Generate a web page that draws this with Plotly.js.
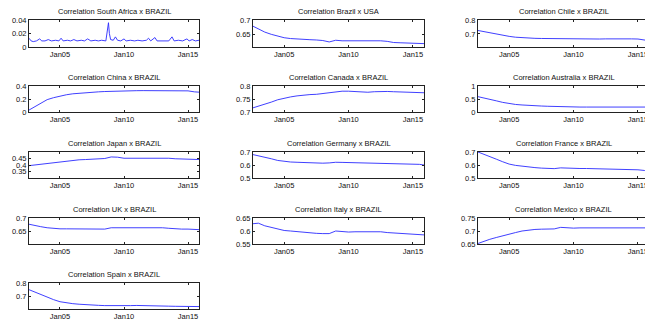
<!DOCTYPE html>
<html><head><meta charset="utf-8">
<script src="https://cdn.plot.ly/plotly-3.0.1.min.js"></script>
<style>html,body{margin:0;padding:0;overflow:hidden;background:#fff}#chart{width:660px;height:325px}</style>
</head><body><div id="chart"></div>
<script>
// ---- data ----
const titles = [
  "Correlation South Africa x BRAZIL","Correlation Brazil x USA","Correlation Chile x BRAZIL",
  "Correlation China x BRAZIL","Correlation Canada x BRAZIL","Correlation Australia x BRAZIL",
  "Correlation Japan x BRAZIL","Correlation Germany x BRAZIL","Correlation France x BRAZIL",
  "Correlation UK x BRAZIL","Correlation Italy x BRAZIL","Correlation Mexico x BRAZIL",
  "Correlation Spain x BRAZIL"];

const dates = ["2002-08-01","2003-01-01","2003-07-01","2004-01-01","2004-07-01","2005-01-01","2005-07-01",
  "2006-01-01","2006-07-01","2007-01-01","2007-07-01","2008-01-01","2008-07-01","2009-01-01","2009-07-01",
  "2010-01-01","2010-07-01","2011-01-01","2011-07-01","2012-01-01","2012-07-01","2013-01-01","2013-07-01",
  "2014-01-01","2014-07-01","2015-01-01","2015-07-01","2015-11-10"];

const saDates = ["2002-08-01","2002-10-01","2002-12-01","2003-03-01","2003-06-01","2003-08-01","2003-11-01",
  "2004-02-01","2004-05-01","2004-09-01","2004-12-01","2005-02-01","2005-04-01","2005-08-01","2005-11-01",
  "2006-02-01","2006-05-01","2006-09-01","2006-12-01","2007-03-01","2007-06-01","2007-10-01","2008-01-01",
  "2008-04-01","2008-08-01","2008-10-15","2008-11-10","2008-12-15","2009-03-01","2009-05-01","2009-07-01",
  "2009-10-01","2010-01-01","2010-03-01","2010-07-01","2010-11-01","2011-02-01","2011-06-01","2011-10-01",
  "2011-12-01","2012-02-01","2012-06-01","2012-08-01","2012-11-01","2013-03-01","2013-07-01","2013-10-01",
  "2013-12-01","2014-04-01","2014-08-01","2014-12-01","2015-02-01","2015-05-01","2015-08-01","2015-11-10"];
const southAfrica = [0.013,0.009,0.008,0.009,0.012,0.009,0.009,0.011,0.009,0.010,0.009,0.013,0.009,0.010,0.009,
  0.011,0.009,0.010,0.009,0.012,0.009,0.010,0.009,0.010,0.009,0.036,0.020,0.011,0.010,0.015,0.010,
  0.009,0.012,0.009,0.010,0.009,0.010,0.009,0.010,0.013,0.009,0.014,0.009,0.009,0.010,0.009,0.015,
  0.009,0.010,0.009,0.012,0.009,0.011,0.009,0.010];

const usa = [0.678,0.668,0.657,0.649,0.642,0.637,0.634,0.632,0.631,0.630,0.629,0.627,0.622,0.628,0.626,0.626,0.626,0.627,0.625,0.626,0.626,0.624,0.620,0.619,0.618,0.617,0.616,0.616];
const chile = [0.725,0.717,0.707,0.698,0.690,0.683,0.677,0.673,0.671,0.669,0.668,0.667,0.666,0.666,0.667,0.666,0.665,0.664,0.662,0.664,0.665,0.666,0.666,0.665,0.665,0.664,0.660,0.652];
const china = [0.03,0.08,0.14,0.19,0.22,0.245,0.265,0.28,0.29,0.30,0.305,0.31,0.315,0.32,0.322,0.325,0.327,0.328,0.329,0.33,0.33,0.33,0.33,0.33,0.33,0.325,0.31,0.305];
const canada = [0.716,0.722,0.730,0.738,0.747,0.754,0.758,0.762,0.765,0.767,0.768,0.771,0.775,0.779,0.780,0.780,0.779,0.777,0.776,0.778,0.779,0.779,0.778,0.777,0.776,0.775,0.774,0.774];
const australia = [0.59,0.55,0.49,0.43,0.37,0.32,0.29,0.27,0.25,0.24,0.23,0.22,0.21,0.20,0.20,0.195,0.19,0.19,0.19,0.19,0.19,0.19,0.19,0.19,0.19,0.19,0.19,0.19];
const japan = [0.395,0.400,0.405,0.415,0.420,0.425,0.430,0.435,0.440,0.442,0.443,0.445,0.450,0.462,0.460,0.452,0.452,0.453,0.454,0.455,0.455,0.454,0.452,0.448,0.447,0.446,0.443,0.442];
const germany = [0.680,0.672,0.660,0.648,0.635,0.627,0.623,0.621,0.618,0.616,0.615,0.614,0.616,0.621,0.620,0.619,0.618,0.617,0.613,0.612,0.612,0.612,0.611,0.610,0.610,0.608,0.605,0.600];
const france = [0.700,0.685,0.665,0.645,0.625,0.607,0.597,0.590,0.585,0.580,0.576,0.573,0.572,0.578,0.575,0.574,0.573,0.573,0.572,0.572,0.571,0.570,0.568,0.567,0.565,0.563,0.558,0.545];
const uk = [0.677,0.674,0.668,0.664,0.661,0.660,0.660,0.660,0.659,0.659,0.659,0.659,0.659,0.664,0.664,0.664,0.664,0.665,0.665,0.665,0.665,0.664,0.662,0.660,0.659,0.659,0.658,0.657];
const italy = [0.628,0.630,0.620,0.613,0.607,0.602,0.600,0.597,0.595,0.593,0.591,0.590,0.590,0.600,0.597,0.596,0.597,0.597,0.597,0.597,0.597,0.594,0.592,0.590,0.589,0.588,0.586,0.585];
const mexico = [0.652,0.660,0.668,0.675,0.682,0.688,0.694,0.700,0.704,0.706,0.707,0.707,0.708,0.714,0.712,0.711,0.712,0.712,0.713,0.713,0.714,0.714,0.713,0.713,0.713,0.712,0.712,0.712];
const spain = [0.752,0.735,0.715,0.698,0.680,0.665,0.657,0.651,0.647,0.643,0.641,0.639,0.637,0.636,0.638,0.637,0.637,0.638,0.636,0.635,0.634,0.634,0.633,0.632,0.632,0.631,0.630,0.630];

const xTicks = ["2005-01-01","2010-01-01","2015-01-01"];
const yRanges = [[0,0.04],[0.604,0.7],[0.607,0.8],[0,0.4],[0.7,0.8],[0,1],[0.3,0.5],[0.5,0.7],[0.5,0.7],[0.604,0.7],[0.55,0.65],[0.65,0.75],[0.6125,0.8]];
const yTicks = [[0,0.02,0.04],[0.65,0.7],[0.7,0.8],[0,0.2,0.4],[0.7,0.75,0.8],[0,0.5,1],[0.35,0.4,0.45],[0.5,0.6,0.7],[0.5,0.6,0.7],[0.65,0.7],[0.55,0.6,0.65],[0.65,0.7,0.75],[0.7,0.8]];

// ---- layout ----
const W = 660, H = 325;
const cols = [[29,199],[253,424],[478,649]];
const rows = [[20,47],[86,112],[152,178],[218,244],[283,309]];
const ys = [southAfrica,usa,chile,china,canada,australia,japan,germany,france,uk,italy,mexico,spain];
const traces = [], annotations = [];
const fnt = {family:'Liberation Sans, Arial, sans-serif',size:7.5,color:'#111'};
const layout = {width:W,height:H,margin:{l:0,r:0,t:0,b:0},showlegend:false,paper_bgcolor:'#fff',plot_bgcolor:'#fff',font:fnt};
ys.forEach((y,i)=>{
  const r = Math.floor(i/3), c = i%3, n = i===0?'':String(i+1);
  traces.push({type:'scatter',mode:'lines',x:i===0?saDates:dates,y:y,xaxis:'x'+n,yaxis:'y'+n,
    line:{color:'#2a2aff',width:0.9},hoverinfo:'skip'});
  const xd=[cols[c][0]/W, cols[c][1]/W], yd=[1-rows[r][1]/H, 1-rows[r][0]/H];
  layout['xaxis'+n] = {domain:xd,anchor:'y'+n,type:'date',range:['2002-08-01','2015-11-10'],tickvals:xTicks,tickformat:'%b%y',
    ticks:'inside',ticklen:2,tickcolor:'#222',mirror:'ticks',showline:true,linecolor:'#222',linewidth:1,showgrid:false,zeroline:false,tickfont:fnt};
  layout['yaxis'+n] = {domain:yd,anchor:'x'+n,range:yRanges[i],tickvals:yTicks[i],
    ticks:'inside',ticklen:2,tickcolor:'#222',mirror:'ticks',showline:true,linecolor:'#222',linewidth:1,showgrid:false,zeroline:false,tickfont:fnt};
  annotations.push({xref:'paper',yref:'paper',x:(xd[0]+xd[1])/2,y:yd[1],xanchor:'center',yanchor:'bottom',yshift:2,
    text:titles[i],showarrow:false,font:fnt});
});
layout.annotations = annotations;
Plotly.newPlot('chart',traces,layout,{staticPlot:true,displayModeBar:false});
</script></body></html>
